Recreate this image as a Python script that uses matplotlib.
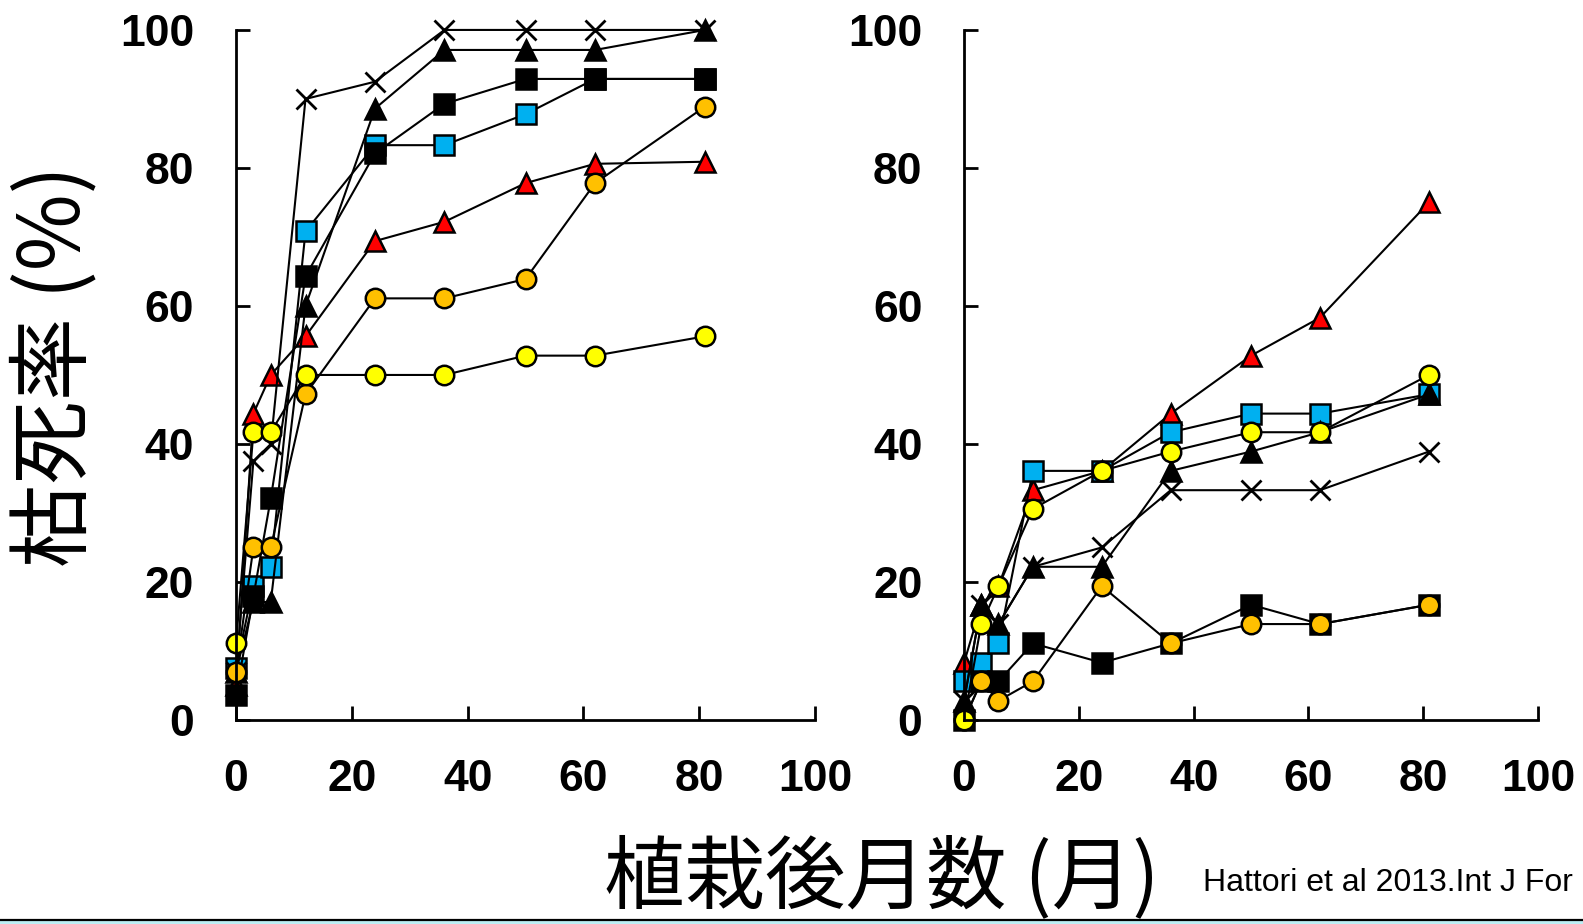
import matplotlib.pyplot as plt
from matplotlib.lines import Line2D
from matplotlib.patches import Rectangle

# months after planting
months = [0, 3, 6, 12, 24, 36, 50, 62, 81]

# left panel, mortality (%)
left_red_tri = [5.0, 44.4, 50.0, 55.6, 69.4, 72.2, 77.8, 80.6, 80.9]
left_blue_sq = [7.5, 19.4, 22.2, 70.8, 83.3, 83.3, 87.8, 92.9, 92.9]
left_black_sq = [3.6, 17.9, 32.1, 64.3, 82.1, 89.3, 92.9, 92.9, 92.9]
left_black_tri = [7.0, 17.1, 17.1, 60.0, 88.6, 97.1, 97.1, 97.1, 100.0]
left_cross = [7.0, 37.5, 40.0, 90.0, 92.5, 100.0, 100.0, 100.0, 100.0]
left_orange = [7.0, 25.0, 25.0, 47.2, 61.1, 61.1, 63.9, 77.8, 88.9]
left_yellow = [11.1, 41.7, 41.7, 50.0, 50.0, 50.0, 52.8, 52.8, 55.6]

# right panel, mortality (%)
right_red_tri = [8.3, 16.7, 19.4, 33.3, 36.1, 44.4, 52.8, 58.3, 75.0]
right_blue_sq = [5.6, 8.3, 11.1, 36.1, 36.1, 41.7, 44.4, 44.4, 47.2]
right_black_sq = [0.0, 5.6, 5.6, 11.1, 8.3, 11.1, 16.7, 13.9, 16.7]
right_black_tri = [2.8, 16.7, 13.9, 22.2, 22.2, 36.1, 38.9, 41.7, 47.2]
right_cross = [2.8, 16.7, 13.9, 22.2, 25.0, 33.3, 33.3, 33.3, 38.9]
right_orange = [0.0, 5.6, 2.8, 5.6, 19.4, 11.1, 13.9, 13.9, 16.7]
right_yellow = [0.0, 13.9, 19.4, 30.6, 36.1, 38.9, 41.7, 41.7, 50.0]

ticks = [0, 20, 40, 60, 80, 100]

# marker styles: (marker, face colour, size)
styles = [
    ('^', '#FF0000', 15),
    ('s', '#00B0F0', 14),
    ('s', 'black', 14),
    ('^', 'black', 15),
    ('x', 'none', 14),
    ('o', '#FFC000', 14),
    ('o', '#FFFF00', 14),
]

left_series = [left_red_tri, left_blue_sq, left_black_sq, left_black_tri,
               left_cross, left_orange, left_yellow]
right_series = [right_red_tri, right_blue_sq, right_black_sq, right_black_tri,
                right_cross, right_orange, right_yellow]

fig = plt.figure(figsize=(15.83, 9.24), dpi=100)
ax1 = fig.add_axes([0.1491, 0.2208, 0.3658, 0.7468])
ax2 = fig.add_axes([0.6090, 0.2208, 0.3626, 0.7468])

for ax, series in [(ax1, left_series), (ax2, right_series)]:
    for vals, (m, fc, ms) in zip(series, styles):
        ax.plot(months, vals, color='black', lw=1.5, marker=m,
                markerfacecolor=fc, markeredgecolor='black',
                markersize=ms, markeredgewidth=2 if m == 'x' else 1.8,
                clip_on=False)
    ax.set_xlim(0, 100)
    ax.set_ylim(0, 100)
    ax.set_xticks(ticks)
    ax.set_yticks(ticks)
    ax.spines['top'].set_visible(False)
    ax.spines['right'].set_visible(False)
    ax.spines['left'].set_linewidth(2)
    ax.spines['bottom'].set_linewidth(2)
    ax.tick_params(direction='in', length=10, width=2)
    ax.tick_params(axis='y', pad=30)
    ax.tick_params(axis='x', pad=28)
    for lab in ax.get_xticklabels() + ax.get_yticklabels():
        lab.set_fontfamily('Liberation Sans')
        lab.set_fontweight('bold')
        lab.set_fontsize(32)

cjk = ['Noto Sans CJK JP', 'DejaVu Sans']
fig.text(0.035, 0.604, '枯死率 (%)', rotation=90, ha='center', va='center',
         fontsize=60, family=cjk)
fig.text(0.557, 1 - 836 / 924, '植栽後月数 (月)', ha='center', va='top',
         fontsize=58, family=cjk)
fig.text(1203 / 1583, 1 - 883 / 924, 'Hattori et al 2013.Int J For',
         ha='left', va='center', fontsize=23, family='Liberation Sans')

# slide bottom edge
fig.add_artist(Rectangle((0, 0), 1, 4 / 924, transform=fig.transFigure,
                         facecolor='#BDEFF5', edgecolor='none', zorder=10))
fig.add_artist(Line2D([0, 1], [4 / 924, 4 / 924], transform=fig.transFigure,
                      color='black', lw=1.6, zorder=11))

fig.savefig('out.png', dpi=100)
